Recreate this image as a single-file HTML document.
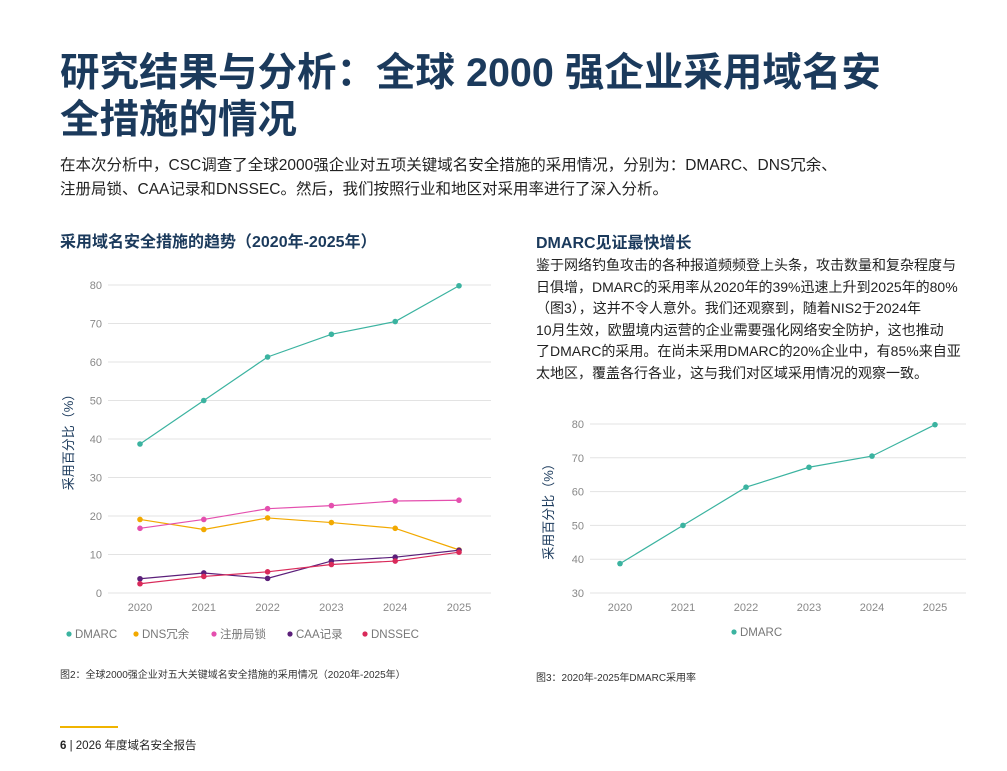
<!DOCTYPE html>
<html><head><meta charset="utf-8"><style>
body{margin:0;width:1007px;height:771px;background:#fff;font-family:"Liberation Sans","Noto Sans CJK SC",sans-serif;color:#222;position:relative;overflow:hidden}
.a{position:absolute;margin:0}
h1{position:absolute;left:60px;top:50px;margin:0;font-size:39.5px;line-height:47px;color:#1b3a5c;font-weight:bold;width:940px;white-space:nowrap}
svg text{font-family:"Liberation Sans","Noto Sans CJK SC",sans-serif}
</style></head><body>
<h1>研究结果与分析：全球 2000 强企业采用域名安<br>全措施的情况</h1>
<p class="a" style="left:60px;top:154px;font-size:15.5px;line-height:24px;width:900px;color:#222">在本次分析中，CSC调查了全球2000强企业对五项关键域名安全措施的采用情况，分别为：DMARC、DNS冗余、<br>注册局锁、CAA记录和DNSSEC。然后，我们按照行业和地区对采用率进行了深入分析。</p>
<div class="a" style="left:60px;top:228px;font-size:16px;font-weight:bold;color:#1b3a5c">采用域名安全措施的趋势（2020年-2025年）</div>
<div class="a" style="left:536px;top:229px;font-size:16px;font-weight:bold;color:#1b3a5c">DMARC见证最快增长</div>
<p class="a" style="left:536px;top:255px;font-size:14px;line-height:21.5px;width:470px;color:#222;white-space:nowrap">鉴于网络钓鱼攻击的各种报道频频登上头条，攻击数量和复杂程度与<br>日俱增，DMARC的采用率从2020年的39%迅速上升到2025年的80%<br>（图3），这并不令人意外。我们还观察到，随着NIS2于2024年<br>10月生效，欧盟境内运营的企业需要强化网络安全防护，这也推动<br>了DMARC的采用。在尚未采用DMARC的20%企业中，有85%来自亚<br>太地区，覆盖各行各业，这与我们对区域采用情况的观察一致。</p>
<svg class="a" style="left:0;top:0" width="1007" height="771">
<g id="c1"></g><g id="c2"></g>
</svg>
<div class="a" style="left:60px;top:666px;font-size:10px;color:#333">图2：全球2000强企业对五大关键域名安全措施的采用情况（2020年-2025年）</div>
<div class="a" style="left:536px;top:669px;font-size:10px;color:#333">图3：2020年-2025年DMARC采用率</div>
<div class="a" style="left:60px;top:726px;width:58px;height:2px;background:#f0b400"></div>
<div class="a" style="left:60px;top:737px;font-size:11.5px;color:#222"><b>6</b> | 2026 年度域名安全报告</div>
<script>
const years=["2020","2021","2022","2023","2024","2025"];
const seriesNames=["DMARC","DNS冗余","注册局锁","CAA记录","DNSSEC"];
const dmarc=[38.7,50,61.3,67.2,70.5,79.8];
const dnsRed=[19.1,16.5,19.5,18.3,16.8,11.2];
const regLock=[16.8,19.1,21.9,22.7,23.9,24.1];
const caa=[3.7,5.2,3.8,8.3,9.3,11.1];
const dnssec=[2.4,4.3,5.5,7.4,8.3,10.6];
const ticks1=[0,10,20,30,40,50,60,70,80];
const ticks2=[30,40,50,60,70,80];
const colors=["#3bb3a0","#f2a900","#e44fae","#5b1f7a","#d92a5a"];
const NS="http://www.w3.org/2000/svg";
function mk(p,t,a,txt){const e=document.createElementNS(NS,t);for(const k in a)e.setAttribute(k,a[k]);if(txt!=null)e.textContent=txt;p.appendChild(e);return e;}
function chart(g,cfg,data,names,cols){
 const sx=i=>cfg.x0+i*(cfg.x1-cfg.x0)/(years.length-1);
 const sy=v=>cfg.yb+(v-cfg.vmin)*(cfg.yt-cfg.yb)/(cfg.vmax-cfg.vmin);
 cfg.ticks.forEach(t=>{const l=mk(g,'line',{x1:cfg.gl,x2:cfg.gr,y1:sy(t),y2:sy(t),stroke:'#e3e3e3','stroke-width':1});
  
  
  const tx=mk(g,'text',{x:cfg.gl-6,y:sy(t)+4,'text-anchor':'end','font-size':11,fill:'#888'},t);
  
  });
 years.forEach((y,i)=>{const tx=mk(g,'text',{x:sx(i),y:cfg.yb+18,'text-anchor':'middle','font-size':11,fill:'#888'},y);
  
  });
 const yt=mk(g,'text',{transform:`translate(${cfg.ytx},${(cfg.yt+cfg.yb)/2}) rotate(-90)`,'text-anchor':'middle','font-size':13,fill:'#1b3a5c'},'采用百分比（%）');
 
 
 data.forEach((s,k)=>{
  const pl=mk(g,'polyline',{points:s.map((v,i)=>sx(i)+','+sy(v)).join(' '),fill:'none',stroke:cols[k],'stroke-width':1.2});
  
  
  s.forEach((v,i)=>{const c=mk(g,'circle',{cx:sx(i),cy:sy(v),r:2.8,fill:cols[k]});
   
   });
 });
 names.forEach((n,k)=>{const x=cfg.lx[k];
  const c=mk(g,'circle',{cx:x,cy:cfg.ly-4,r:2.6,fill:cols[k]});
  
  
  const t=mk(g,'text',{x:x+6,y:cfg.ly,'font-size':11.5,fill:'#777'},n);
  
  });
}
chart(document.getElementById('c1'),{x0:140,x1:459,gl:108,gr:491,yt:285,yb:593,vmin:0,vmax:80,ticks:ticks1,ytx:73,ly:638,lx:[69,136,214,290,365]},[dmarc,dnsRed,regLock,caa,dnssec],seriesNames,colors);
chart(document.getElementById('c2'),{x0:620,x1:935,gl:590,gr:966,yt:424,yb:593,vmin:30,vmax:80,ticks:ticks2,ytx:553,ly:636,lx:[734]},[dmarc],["DMARC"],[colors[0]]);
</script>
</body></html>
